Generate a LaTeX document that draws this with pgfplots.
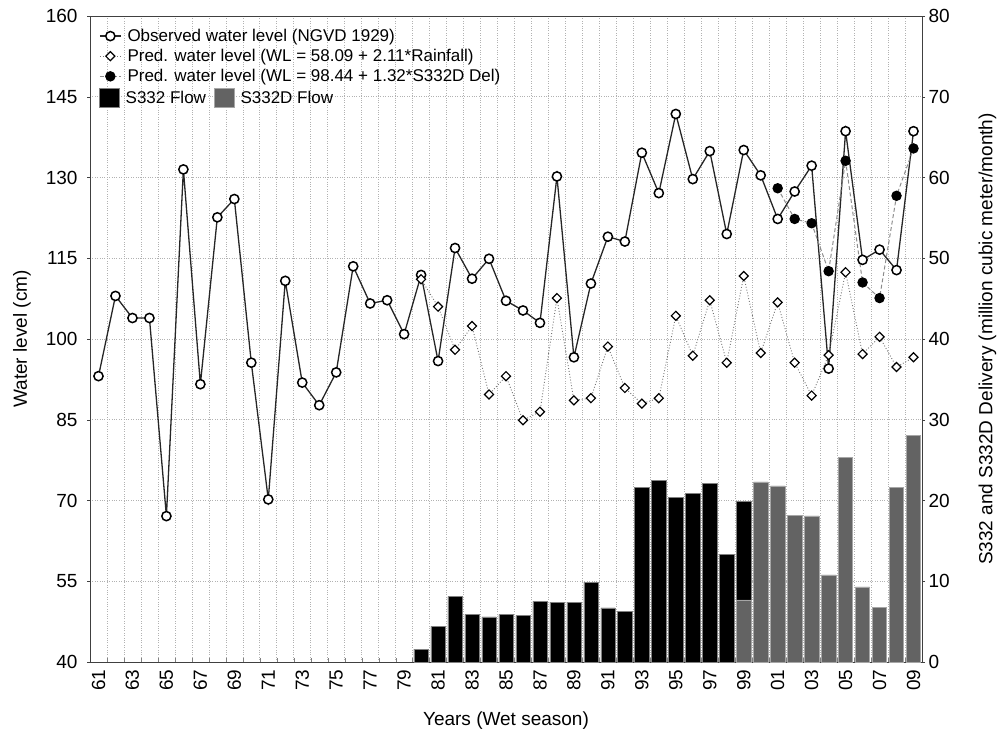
\documentclass[border=0pt]{standalone}
\usepackage{fontspec}
\setmainfont{Liberation Sans}
\usepackage{pgfplots}
\pgfplotsset{compat=1.18}
\definecolor{barg}{HTML}{636363}
\begin{document}
\begin{tikzpicture}
\pgfplotsset{
  every axis/.append style={scale only axis, width=832pt, height=646pt,
    xmin=1960.5, xmax=2009.5,
    tick label style={font=\fontsize{19}{22}\selectfont},
    label style={font=\fontsize{19}{22}\selectfont},
    axis line style={black!75, line width=0.9pt},
    /pgf/number format/assume math mode=true,
  },
}
% ---------- Axis A: bars, right axis, grid, x ticks ----------
\begin{axis}[name=A,
  ymin=0, ymax=80, ytick={0,10,...,80},
  yticklabel pos=right,
  ylabel={S332 and S332D Delivery (million cubic meter/month)},
  ylabel shift=22pt,
  xtick={1961,1963,...,2009},
  xticklabels={61,63,65,67,69,71,73,75,77,79,81,83,85,87,89,91,93,95,97,99,01,03,05,07,09},
  x tick label style={rotate=90, anchor=east},
  xticklabel shift=4pt,
  major x tick style={draw=none},
  minor xtick={1960.5,1961.5,...,2009.5},
  minor tick length=4pt,
  xtick pos=bottom,
  xminorgrids=true,
  minor x grid style={dotted, black!30, line width=0.6pt},
  ymajorgrids=true,
  major y grid style={dotted, black!30, line width=0.6pt},
  ytick style={black!75},
  major tick length=3pt,
  ytick align=outside,
  xlabel={Years (Wet season)},
  xlabel shift=14pt,
  legend columns=2,
  legend style={draw=none, fill=none, font=\fontsize{17}{20}\selectfont,
    at={(0,1)}, anchor=north west, xshift=6pt, yshift=-70pt,
    /tikz/every odd column/.append style={column sep=4pt},
    /tikz/every even column/.append style={column sep=6pt}},
  legend cell align=left,
  legend image code/.code={\draw[#1] (0pt,-9pt) rectangle (20pt,10pt);},
]
\addplot[ybar, bar width=0.84, bar shift=0pt, fill=black, draw=black!50, line width=0.5pt]
  coordinates {
  (1980,1.6) (1981,4.4) (1982,8.1) (1983,5.9) (1984,5.6) (1985,5.9) (1986,5.75)
  (1987,7.5) (1988,7.4) (1989,7.4) (1990,9.9) (1991,6.7) (1992,6.3) (1993,21.6)
  (1994,22.5) (1995,20.4) (1996,20.9) (1997,22.1) (1998,13.3) (1999,19.9)
  };
\addlegendentry{S332 Flow}
\addplot[ybar, bar width=0.84, bar shift=0pt, fill=barg, draw=black!35, line width=0.5pt]
  coordinates {
  (1999,7.7) (2000,22.3) (2001,21.8) (2002,18.2) (2003,18.1) (2004,10.8)
  (2005,25.3) (2006,9.3) (2007,6.8) (2008,21.6) (2009,28.1)
  };
\addlegendentry{S332D Flow}
\end{axis}
% ---------- Axis B: water levels, left axis ----------
\begin{axis}[
  ymin=40, ymax=160, ytick={40,55,...,160},
  axis y line*=left, axis x line=none,
  ytick style={black!75}, major tick length=3pt, ytick align=outside,
  yticklabel shift=6pt,
  ylabel={Water level (cm)},
  ylabel shift=8pt,
  legend style={draw=none, fill=none, font=\fontsize{17}{20}\selectfont,
    at={(0,1)}, anchor=north west, xshift=6pt, yshift=-9pt, row sep=2.3pt,
    /tikz/every odd column/.append style={column sep=4pt}},
  legend cell align=left,
  legend image code/.code={\draw[mark repeat=2,mark phase=2,#1] plot coordinates {(0pt,0pt) (10.5pt,0pt) (21pt,0pt)};},
]
\addplot[black!85, line width=1.3pt, mark=*, mark size=4.6pt,
  mark options={solid, fill=white, draw=black, line width=1.5pt}]
  coordinates {
  (1961,93.1) (1962,108.0) (1963,103.9) (1964,103.9) (1965,67.1) (1966,131.5)
  (1967,91.6) (1968,122.6) (1969,126.0) (1970,95.6) (1971,70.2) (1972,110.8)
  (1973,91.9) (1974,87.7) (1975,93.8) (1976,113.5) (1977,106.6) (1978,107.2)
  (1979,100.9) (1980,111.9) (1981,95.9) (1982,116.9) (1983,111.2) (1984,114.9)
  (1985,107.1) (1986,105.3) (1987,103.0) (1988,130.2) (1989,96.6) (1990,110.3)
  (1991,119.0) (1992,118.1) (1993,134.6) (1994,127.1) (1995,141.8) (1996,129.7)
  (1997,134.9) (1998,119.5) (1999,135.1) (2000,130.4) (2001,122.3) (2002,127.4)
  (2003,132.2) (2004,94.5) (2005,138.6) (2006,114.7) (2007,116.6) (2008,112.8)
  (2009,138.6)
  };
\addlegendentry{Observed water level (NGVD 1929)}
\addplot[black!55, line width=0.9pt, dotted, mark=square*, mark size=3.2pt,
  mark options={solid, rotate=45, fill=white, draw=black, line width=1.2pt}]
  coordinates {
  (1980,111.1) (1981,106.0) (1982,98.0) (1983,102.4) (1984,89.7) (1985,93.1)
  (1986,84.9) (1987,86.5) (1988,107.6) (1989,88.6) (1990,89.0) (1991,98.6)
  (1992,90.9) (1993,88.0) (1994,89.0) (1995,104.3) (1996,96.9) (1997,107.2)
  (1998,95.6) (1999,111.7) (2000,97.4) (2001,106.8) (2002,95.6) (2003,89.5)
  (2004,97.0) (2005,112.4) (2006,97.2) (2007,100.4) (2008,94.8) (2009,96.6)
  };
\addlegendentry{Pred. water level (WL = 58.09 + 2.11*Rainfall)}
\addplot[black!45, line width=1pt, dash pattern=on 4pt off 2.5pt, mark=*, mark size=4.7pt,
  mark options={solid, fill=black, draw=black}]
  coordinates {
  (2001,128.0) (2002,122.3) (2003,121.5) (2004,112.6) (2005,133.1)
  (2006,110.5) (2007,107.6) (2008,126.6) (2009,135.4)
  };
\addlegendentry{Pred. water level (WL = 98.44 + 1.32*S332D Del)}
\end{axis}
\pgfresetboundingbox
\path (A.south west) ++(-90pt,-69pt) rectangle ++(1003pt,731pt);
\end{tikzpicture}
\end{document}
